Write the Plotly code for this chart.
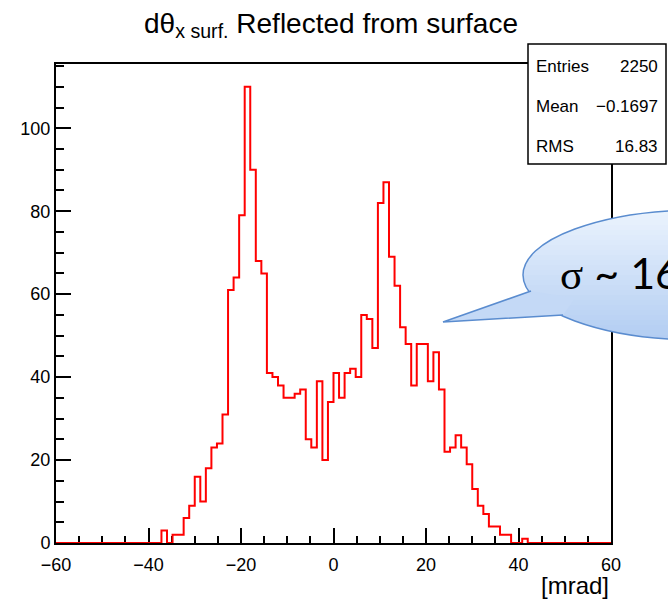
import numpy as np
import plotly.graph_objects as go

# ---------------- data ----------------
x_min, x_max, n_bins = -60.0, 60.0, 100
counts = [
    0, 0, 0, 0, 0, 0, 0, 0, 0, 0,
    0, 0, 0, 0, 0, 0, 0, 0, 0, 3,
    0, 2, 2, 6, 9, 16, 10, 18, 23, 24,
    31, 61, 64, 79, 110, 90, 68, 65, 41, 40,
    38, 35, 35, 36, 37, 25, 23, 39, 20, 34,
    41, 35, 41, 42, 40, 55, 54, 47, 82, 87,
    69, 62, 52, 48, 38, 48, 48, 39, 46, 37,
    22, 23, 26, 23, 19, 13, 9, 7, 4, 4,
    2, 2, 0, 0, 1, 0, 0, 0, 0, 0,
    0, 0, 0, 0, 0, 0, 0, 0, 0, 0,
]
x_ticks = [-60, -40, -20, 0, 20, 40, 60]
y_ticks = [0, 20, 40, 60, 80, 100]
stats_labels = ["Entries", "Mean", "RMS"]
stats_values = ["2250", "\u22120.1697", "16.83"]
title_html = "d\u03b8<sub>x surf.</sub> Reflected from surface"
x_title = "[mrad]"
y_max = 115.5

edges = np.linspace(x_min, x_max, n_bins + 1)
step_y = list(counts) + [counts[-1]]

# ---------------- layout geometry ----------------
W, H = 668, 600
L, R, T, B = 56, 57, 64, 57
PW, PH = W - L - R, H - T - B


def px(xp):
    return (xp - L) / PW


def py(yp):
    return (H - B - yp) / PH


FONT = "Liberation Sans, Arial, Helvetica, sans-serif"

fig = go.Figure()
fig.add_trace(go.Scatter(
    x=edges, y=step_y, mode="lines", line_shape="hv",
    line=dict(color="#ff0000", width=2), hoverinfo="skip", showlegend=False,
    cliponaxis=False,
))

axis_common = dict(
    showline=True, linecolor="black", linewidth=2, mirror=True,
    ticks="inside", ticklen=15, tickwidth=1.5, tickcolor="black",
    showgrid=False, zeroline=False,
    tickfont=dict(family=FONT, size=18, color="black"),
)

fig.update_xaxes(
    range=[x_min, x_max], tickvals=x_ticks,
    ticktext=[str(v).replace("-", "\u2212") for v in x_ticks],
    minor=dict(dtick=5, tick0=0, ticklen=7, tickwidth=1.5, ticks="inside", tickcolor="black"),
    ticklabelstandoff=4, layer="below traces",
    **axis_common,
)
fig.update_yaxes(
    range=[0, y_max], tickvals=y_ticks, ticktext=[str(v) for v in y_ticks],
    minor=dict(dtick=5, tick0=0, ticklen=8, tickwidth=1.5, ticks="inside", tickcolor="black"),
    ticklabelstandoff=0, layer="below traces",
    **axis_common,
)

shapes = []
annotations = []

# ---------------- callout bubble with vertical gradient ----------------
cx, cy, ea, eb = 700.0, 275.0, 177.0, 65.0
top_col = np.array([236, 244, 254])
bot_col = np.array([178, 205, 242])
line_col = "#5a8ccf"
n_bands = 26
band_edges = np.linspace(cy - eb, cy + eb, n_bands + 1)
for k in range(n_bands):
    y0b = band_edges[k]
    y1b = min(band_edges[k + 1] + 0.8, cy + eb)
    ys = np.linspace(y0b, y1b, 6)
    half = ea * np.sqrt(np.clip(1 - ((ys - cy) / eb) ** 2, 0, 1))
    pts = [(cx - h, yy) for h, yy in zip(half, ys)] + \
          [(cx + h, yy) for h, yy in zip(half[::-1], ys[::-1])]
    path = "M " + " L ".join("{:.5f} {:.5f}".format(px(a), py(b)) for a, b in pts) + " Z"
    t = (k + 0.5) / n_bands
    c = (top_col * (1 - t) + bot_col * t).astype(int)
    shapes.append(dict(type="path", xref="paper", yref="paper", path=path,
                       fillcolor="rgb({},{},{})".format(*c), line=dict(width=0), layer="above"))
shapes.append(dict(type="circle", xref="paper", yref="paper",
                   x0=px(cx - ea), x1=px(cx + ea), y0=py(cy + eb), y1=py(cy - eb),
                   line=dict(color=line_col, width=1.5), layer="above"))
tail_fill = "M {} {} L {} {} L {} {} L {} {} Z".format(
    px(531), py(291), px(443), py(322), px(563), py(315), px(575), py(298))
shapes.append(dict(type="path", xref="paper", yref="paper", path=tail_fill,
                   fillcolor="rgb(196,217,246)", line=dict(width=0), layer="above"))
tail_line = "M {} {} L {} {} L {} {}".format(
    px(531), py(291), px(443), py(322), px(563), py(315))
shapes.append(dict(type="path", xref="paper", yref="paper", path=tail_line,
                   line=dict(color=line_col, width=1.5), layer="above"))

# ---------------- stats box ----------------
shapes.append(dict(type="rect", xref="paper", yref="paper",
                   x0=px(528), x1=px(666), y0=py(164), y1=py(44),
                   fillcolor="white", line=dict(color="black", width=1.5), layer="above"))

row_y = [66, 106, 146]
for lab, val, ry in zip(stats_labels, stats_values, row_y):
    annotations.append(dict(xref="paper", yref="paper", x=px(534), y=py(ry + 1),
                            xanchor="left", yanchor="middle", showarrow=False, text=lab,
                            font=dict(family=FONT, size=17, color="black")))
    annotations.append(dict(xref="paper", yref="paper", x=px(660), y=py(ry + 1),
                            xanchor="right", yanchor="middle", showarrow=False, text=val,
                            font=dict(family=FONT, size=17, color="black")))

# callout text
annotations.append(dict(xref="paper", yref="paper", x=px(558), y=py(272),
                        xanchor="left", yanchor="middle", showarrow=False,
                        text="<span style='font-family:Liberation Serif'>\u03c3</span> ~ 16",
                        font=dict(family="Lato, sans-serif", size=43, color="black")))

# x axis title
annotations.append(dict(xref="paper", yref="paper", x=px(611), y=py(585),
                        xanchor="right", yanchor="middle", showarrow=False, text=x_title,
                        font=dict(family=FONT, size=24, color="black")))

fig.update_layout(
    width=W, height=H,
    margin=dict(l=L, r=R, t=T, b=B, pad=0),
    paper_bgcolor="white", plot_bgcolor="white",
    title=dict(text=title_html, x=331 / W, xanchor="center", xref="container",
               y=1 - 13 / H, yanchor="top", yref="container",
               font=dict(family=FONT, size=28, color="black")),
    shapes=shapes, annotations=annotations,
    showlegend=False,
)

fig.write_html("out.html")
